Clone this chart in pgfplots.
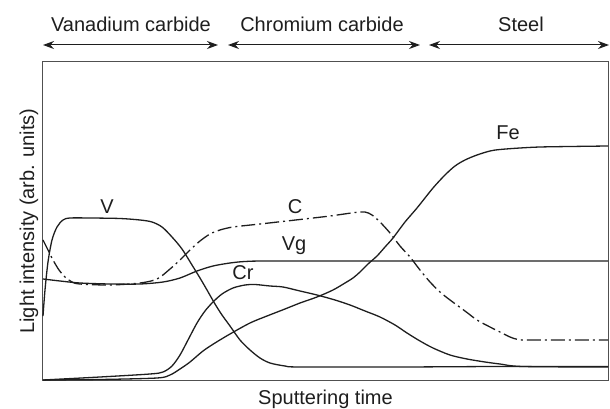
\documentclass[border=0pt]{standalone}
\usepackage{pgfplots}
\pgfplotsset{compat=1.18}
\usepackage{fontspec}
\setmainfont{Liberation Sans}
\usetikzlibrary{arrows.meta}
\definecolor{ink}{HTML}{1E1E1E}
\definecolor{frame}{HTML}{505050}
\tikzset{lbl/.style={font=\fontsize{20bp}{24bp}\selectfont, text=ink, inner sep=0pt},
  dbl/.style={{Stealth[length=11bp,width=8bp]}-{Stealth[length=11bp,width=8bp]}, draw=ink, line width=1bp}}
\begin{document}
\begin{tikzpicture}
\useasboundingbox (-43bp,-29bp) rectangle (567bp,380bp);
\begin{axis}[
  scale only axis, width=565bp, height=318bp,
  xmin=43, xmax=608, ymin=0, ymax=318,
  xtick=\empty, ytick=\empty,
  axis line style={draw=frame, line width=1bp},
  clip=false,
  cycle list={{draw=ink, solid}},
  every axis plot/.append style={draw=ink, line width=1.3bp, smooth, tension=0.5, no markers},
]
% V
\addplot coordinates {(43,64) (45,90) (48,118) (52,140) (57,153) (63,160) (70,162) (90,162) (120,161.5) (140,160) (152,158) (162,153) (172,143) (182,131) (192,115) (200,102) (207,90) (215,76) (222,65) (230,54) (240,40) (250,30) (260,22) (270,17) (285,14) (300,13) (400,13) (500,13.5) (608,13.5)};
% Cr
\addplot coordinates {(43,0) (100,3) (150,6) (163,8) (172,14) (180,25) (188,40) (197,57) (205,69) (213,78) (222,86) (233,92) (245,95) (255,95.5) (270,94) (283,93) (300,89) (317,85) (335,80) (350,75) (365,69) (380,63) (395,55) (407,47) (420,39) (433,32) (450,25) (467,21) (485,18) (500,16) (523,13.5) (608,13)};
% Fe
\addplot coordinates {(43,0) (100,0.5) (157,2) (170,5) (180,11) (190,18) (203,29) (215,37) (230,46) (250,57) (267,64) (285,71) (300,77) (317,83) (333,90) (345,97) (353,102) (360,108) (368,116) (377,124) (385,133) (393,142) (405,158) (417,172) (433,192) (445,205) (455,214) (465,220) (477,225) (490,229) (500,230.5) (520,232) (540,233) (570,233.5) (608,234)};
% Vg
\addplot coordinates {(43,101) (60,99) (80,97) (110,96) (140,96) (163,98) (180,102) (197,109) (213,114) (230,117) (245,118.5) (270,119) (400,119) (608,119)};
% C
\addplot[dash pattern=on 14bp off 4bp on 2bp off 4bp] coordinates {(43,140) (48,130) (53,120) (59,110) (65,103) (72,98) (80,96) (110,95) (140,97) (157,101) (170,111) (180,120) (190,130) (200,139) (210,146) (220,150) (233,153) (260,156) (300,160.5) (330,164) (355,167.5) (365,168) (372,165) (380,158) (390,147) (400,134) (410,123) (420,110) (430,98) (440,88) (450,80) (465,69) (477,60) (490,53) (500,48) (510,43) (518,40.5) (530,40) (608,40)};
% curve labels
\node[lbl] at (axis cs:107,173) {V};
\node[lbl] at (axis cs:295,173) {C};
\node[lbl] at (axis cs:294,134) {Vg};
\node[lbl] at (axis cs:243,107) {Cr};
\node[lbl] at (axis cs:508,247) {Fe};
% axis labels
\node[lbl, anchor=base] at (axis cs:325.5,-24) {Sputtering time};
\node[lbl, anchor=base, rotate=90] at (axis cs:34,159) {Light intensity (arb. units)};
% top regions
\draw[dbl] (axis cs:43,335) -- (axis cs:218,335);
\draw[dbl] (axis cs:228,335) -- (axis cs:420,335);
\draw[dbl] (axis cs:429,335) -- (axis cs:609,335);
\node[lbl, anchor=base] at (axis cs:131,348) {Vanadium carbide};
\node[lbl, anchor=base] at (axis cs:322,348) {Chromium carbide};
\node[lbl, anchor=base] at (axis cs:521,348) {Steel};
\end{axis}
\end{tikzpicture}
\end{document}
